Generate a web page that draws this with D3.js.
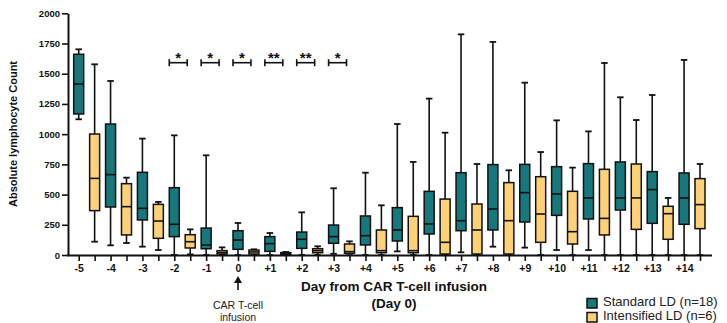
<!DOCTYPE html>
<html><head><meta charset="utf-8">
<script src="https://cdn.jsdelivr.net/npm/d3@7"></script>
<style>
html,body{margin:0;padding:0;background:#fff;}
svg{display:block;font-family:"Liberation Sans",Arial,sans-serif;}
</style></head>
<body><svg id="c" width="727" height="323"></svg>
<script>
const days = ["-5","-4","-3","-2","-1","0","+1","+2","+3","+4","+5","+6","+7","+8","+9","+10","+11","+12","+13","+14"];
// Standard LD (n=18)
const stdMin = [1123,80,69,0,0,0,0,0,10,0,30,0,22,69,61,41,41,0,0,0];
const stdQ1  = [1167,397,290,152,52,47,30,55,97,83,116,174,201,207,273,328,298,372,262,254];
const stdMed = [1415,665,386,254,83,124,94,130,152,160,207,257,284,381,516,505,472,472,541,472];
const stdQ3  = [1661,1084,684,557,223,201,152,190,248,323,392,527,681,748,750,731,756,770,690,679];
const stdMax = [1702,1440,963,990,825,265,182,353,552,681,1084,1294,1826,1763,1426,1114,1023,1305,1324,1614];
// Intensified LD (n=6)
const intMin = [110,99,41,5,0,0,0,0,10,0,0,0,0,0,0,0,0,0,0,0];
const intQ1  = [367,166,138,58,8,8,5,19,14,19,19,8,8,8,105,91,166,212,130,218];
const intMed = [634,400,281,110,20,25,10,36,28,36,36,105,207,284,339,193,303,472,342,417];
const intQ3  = [1001,590,419,168,36,41,20,52,91,207,320,463,422,599,648,527,709,753,403,632];
const intMax = [1578,640,439,212,63,47,25,72,113,411,770,1012,753,701,852,723,1589,1117,472,753];
const yTicks = [0,250,500,750,1000,1250,1500,1750,2000];
const sigDays = ["-2","-1","0","+1","+2","+3"];
const sigLabels = ["*","*","*","**","**","*"];
const seriesNames = ["Standard LD (n=18)","Intensified LD (n=6)"];
const colors = ["#16787a","#fed177"];

const svg = d3.select("#c");
const keys = [];
days.forEach(d=>{keys.push(d+"|S");keys.push(d+"|I");});
const x = d3.scalePoint().domain(keys).range([78.7,700]);
const y = d3.scaleLinear().domain([0,2000]).range([255,13.3]);

function build(series, mins,q1,med,q3,max){
  return days.map((d,i)=>({key:d+"|"+series,min:mins[i],q1:q1[i],med:med[i],q3:q3[i],max:max[i]}));
}
const data = build("S",stdMin,stdQ1,stdMed,stdQ3,stdMax).concat(build("I",intMin,intQ1,intMed,intQ3,intMax));

const bw = 10, cw = 6.5;
const g = svg.append("g");
const box = g.selectAll("g.box").data(data).join("g").attr("class","box");
box.append("line").attr("x1",d=>x(d.key)).attr("x2",d=>x(d.key))
  .attr("y1",d=>y(d.max)).attr("y2",d=>y(d.min)).attr("stroke","#111").attr("stroke-width",1.6);
box.append("line").attr("x1",d=>x(d.key)-cw/2).attr("x2",d=>x(d.key)+cw/2)
  .attr("y1",d=>y(d.max)).attr("y2",d=>y(d.max)).attr("stroke","#111").attr("stroke-width",1.8);
box.append("line").attr("x1",d=>x(d.key)-cw/2).attr("x2",d=>x(d.key)+cw/2)
  .attr("y1",d=>y(d.min)).attr("y2",d=>y(d.min)).attr("stroke","#111").attr("stroke-width",1.8);
box.append("rect").attr("x",d=>x(d.key)-bw/2).attr("width",bw)
  .attr("y",d=>y(d.q3)).attr("height",d=>Math.max(0.5,y(d.q1)-y(d.q3)))
  .attr("fill",d=>d.key.endsWith("S")?colors[0]:colors[1]).attr("stroke","#111").attr("stroke-width",1.5);
box.append("line").attr("x1",d=>x(d.key)-bw/2).attr("x2",d=>x(d.key)+bw/2)
  .attr("y1",d=>y(d.med)).attr("y2",d=>y(d.med)).attr("stroke","#111").attr("stroke-width",1.6);

// Y axis
const ya = svg.append("g").attr("transform","translate(68,0)")
  .call(d3.axisLeft(y).tickValues(yTicks).tickFormat(d3.format("d")).tickSize(6).tickSizeOuter(0).tickPadding(2));
ya.select(".domain").attr("stroke","#111").attr("stroke-width",2);
ya.selectAll(".tick line").attr("stroke","#111").attr("stroke-width",1.6);
ya.selectAll(".tick text").attr("font-size","9.5px").attr("font-weight","bold").attr("fill","#111")
  .attr("font-family","Liberation Sans, Arial, sans-serif");

// X axis
const xa = svg.append("g").attr("transform","translate(0,255)")
  .call(d3.axisBottom(x).tickSize(6).tickSizeOuter(0).tickPadding(4)
    .tickFormat(k=>k.endsWith("|S")?k.split("|")[0]:""));
xa.select(".domain").attr("d","M67,0.5H712").attr("stroke","#111").attr("stroke-width",2);
xa.selectAll(".tick line").attr("stroke","#111").attr("stroke-width",1.6);
xa.selectAll(".tick text").attr("font-size","10.5px").attr("font-weight","bold").attr("fill","#111")
  .attr("font-family","Liberation Sans, Arial, sans-serif");

// Axis titles
svg.append("text").attr("transform","translate(17,134) rotate(-90)").attr("text-anchor","middle")
  .attr("font-size","11px").attr("font-weight","bold").attr("fill","#111").text("Absolute lymphocyte Count");
svg.append("text").attr("x",394).attr("y",291).attr("text-anchor","middle")
  .attr("font-size","13.5px").attr("font-weight","bold").attr("fill","#111").text("Day from CAR T-cell infusion");
svg.append("text").attr("x",394).attr("y",308).attr("text-anchor","middle")
  .attr("font-size","13.5px").attr("font-weight","bold").attr("fill","#111").text("(Day 0)");

// Infusion arrow annotation
const ax = x("0|S");
svg.append("line").attr("x1",ax).attr("x2",ax).attr("y1",290).attr("y2",280).attr("stroke","#111").attr("stroke-width",1.6);
svg.append("path").attr("d",`M${ax-4},${283}L${ax},${276}L${ax+4},${283}Z`).attr("fill","#111");
svg.append("text").attr("x",ax).attr("y",309).attr("text-anchor","middle").attr("font-size","10.5px").attr("fill","#222").text("CAR T-cell");
svg.append("text").attr("x",ax).attr("y",321).attr("text-anchor","middle").attr("font-size","10.5px").attr("fill","#222").text("infusion");

// Significance brackets
sigDays.forEach((d,i)=>{
  const x1 = x(d+"|S")-5, x2 = x(d+"|I")-3, yb = 62.7;
  const sg = svg.append("g").attr("stroke","#111").attr("stroke-width",1.6);
  sg.append("line").attr("x1",x1).attr("x2",x2).attr("y1",yb).attr("y2",yb);
  sg.append("line").attr("x1",x1).attr("x2",x1).attr("y1",yb-3.5).attr("y2",yb+3.5);
  sg.append("line").attr("x1",x2).attr("x2",x2).attr("y1",yb-3.5).attr("y2",yb+3.5);
  svg.append("text").attr("x",(x1+x2)/2).attr("y",63).attr("text-anchor","middle")
    .attr("font-size","15px").attr("font-weight","bold").attr("fill","#111").text(sigLabels[i]);
});

// Legend
const lg = svg.append("g");
seriesNames.forEach((n,i)=>{
  const ly = 303 + i*14;
  lg.append("rect").attr("x",587).attr("y",ly-4.5).attr("width",10).attr("height",9.5)
    .attr("fill",colors[i]).attr("stroke","#111").attr("stroke-width",1.5);
  lg.append("text").attr("x",603).attr("y",ly+2.5).attr("font-size","13px").attr("fill","#222").text(n);
});
</script></body></html>
